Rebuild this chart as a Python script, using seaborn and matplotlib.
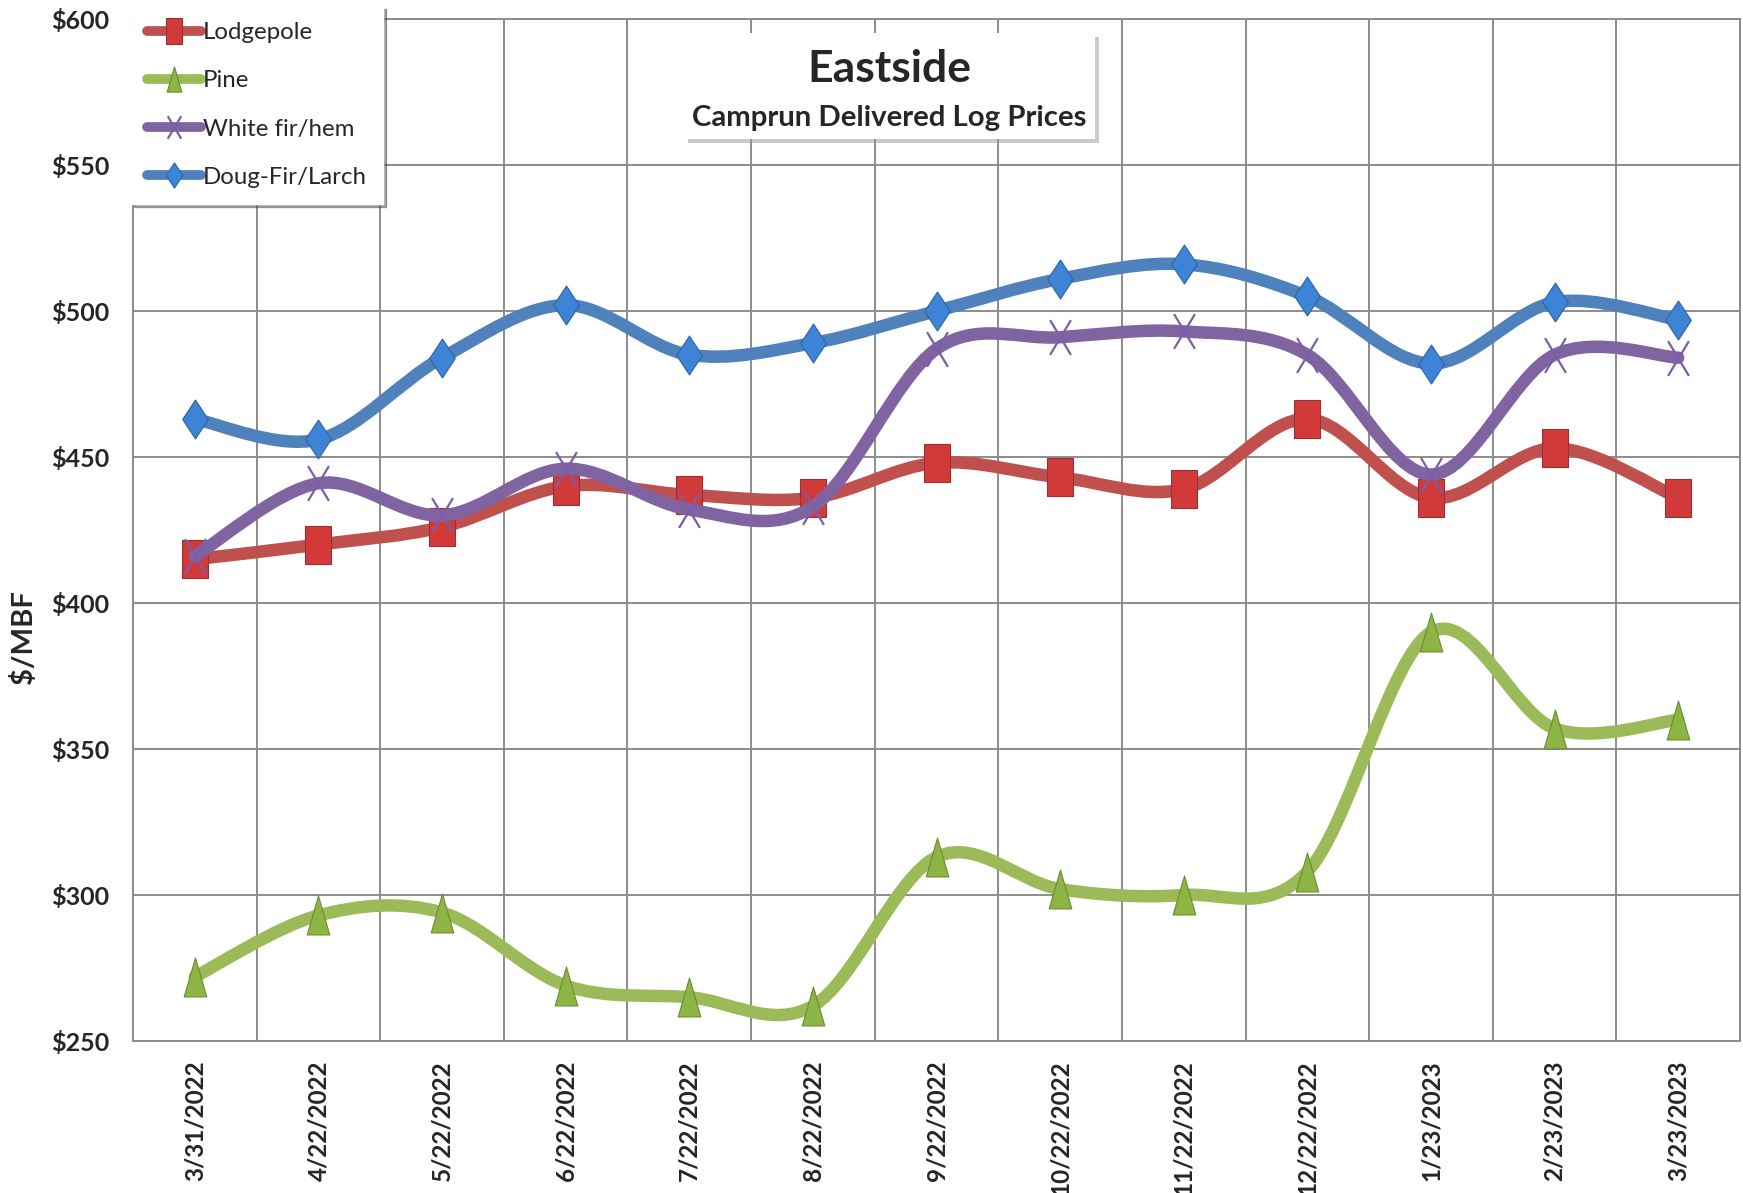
import numpy as np
import seaborn as sns
import matplotlib.pyplot as plt
import matplotlib.patheffects as pe
from matplotlib.path import Path
from matplotlib.patches import PathPatch, Rectangle
from matplotlib.lines import Line2D

# Data ($/MBF)
dates = ["3/31/2022", "4/22/2022", "5/22/2022", "6/22/2022", "7/22/2022", "8/22/2022",
         "9/22/2022", "10/22/2022", "11/22/2022", "12/22/2022", "1/23/2023", "2/23/2023",
         "3/23/2023"]
lodgepole = [415, 420, 426, 440, 437, 436, 448, 443, 439, 463, 436, 453, 436]
pine = [272, 293, 294, 269, 265, 262, 313, 302, 300, 308, 390, 357, 360]
white_fir = [416, 441, 430, 446, 432, 433, 487, 491, 493, 485, 444, 485, 484]
doug_fir = [463, 456, 484, 502, 485, 489, 500, 511, 516, 505, 482, 503, 497]
y_ticks = [250, 300, 350, 400, 450, 500, 550, 600]

sns.set_style("white")
plt.rcParams['font.family'] = ['Lato', 'DejaVu Sans']

# Tall marker shapes (the reference markers are stretched vertically)
square = Path([(-0.33, -0.5), (0.33, -0.5), (0.33, 0.5), (-0.33, 0.5), (-0.33, -0.5)],
              [Path.MOVETO, Path.LINETO, Path.LINETO, Path.LINETO, Path.CLOSEPOLY])
diamond = Path([(0, 0.5), (0.33, 0), (0, -0.5), (-0.33, 0), (0, 0.5)],
               [Path.MOVETO, Path.LINETO, Path.LINETO, Path.LINETO, Path.CLOSEPOLY])
triangle = Path([(-0.29, -0.5), (0.29, -0.5), (0, 0.5), (-0.29, -0.5)],
                [Path.MOVETO, Path.LINETO, Path.LINETO, Path.CLOSEPOLY])
cross = Path([(-0.3, -0.5), (0.3, 0.5), (-0.3, 0.5), (0.3, -0.5)],
             [Path.MOVETO, Path.LINETO, Path.MOVETO, Path.LINETO])

series = [
    ("Lodgepole", lodgepole, "#C0504D", square, "#D23A3A", "#9A3030", 28, 0.8),
    ("Pine", pine, "#9BBB59", triangle, "#8DB543", "#6A8C32", 28, 0.8),
    ("White fir/hem", white_fir, "#8064A2", cross, "none", "#7B5EA7", 25, 1.6),
    ("Doug-Fir/Larch", doug_fir, "#4F81BD", diamond, "#3D83D6", "#2F63A8", 28, 0.8),
]


def smooth_path(xs, ys):
    # Bezier (Catmull-Rom style) smoothing, like Excel's "smoothed line"
    pts = np.column_stack([xs, ys]).astype(float)
    n = len(pts)
    verts = [pts[0]]
    codes = [Path.MOVETO]
    for i in range(n - 1):
        p0 = pts[max(i - 1, 0)]
        p1 = pts[i]
        p2 = pts[i + 1]
        p3 = pts[min(i + 2, n - 1)]
        verts += [p1 + (p2 - p0) / 6, p2 - (p3 - p1) / 6, p2]
        codes += [Path.CURVE4] * 3
    return Path(verts, codes)


fig = plt.figure(figsize=(17.43, 11.93), dpi=100)
ax = fig.add_axes([0.0763, 0.1274, 0.922, 0.8567])

x = np.arange(len(dates))
grid_color = "#8C8C8C"

handles = []
for i, (name, vals, lc, mk, mfc, mec, ms, mew) in enumerate(series):
    z = 3 + i * 2
    ax.add_patch(PathPatch(smooth_path(x, vals), facecolor="none", edgecolor=lc,
                           lw=9, capstyle="round", joinstyle="round", zorder=z))
    sns.lineplot(x=x, y=vals, ax=ax, linestyle="none", marker=mk, markersize=ms,
                 markerfacecolor=mfc, markeredgecolor=mec, markeredgewidth=mew,
                 zorder=z + 1)
    handles.append(Line2D([], [], color=lc, lw=7, solid_capstyle="round", marker=mk,
                          markersize=ms * 0.65, markerfacecolor=mfc,
                          markeredgecolor=mec, markeredgewidth=mew, label=name))

ax.set_xlim(-0.5, len(dates) - 0.5)
ax.set_ylim(250, 600)
ax.set_xticks(x)
ax.set_xticklabels(dates, rotation=90, fontsize=17.5, fontweight="bold")
ax.set_xticks(np.arange(-0.5, len(dates), 1), minor=True)
ax.set_yticks(y_ticks)
ax.set_yticklabels([f"${v}" for v in y_ticks], fontsize=18, fontweight="bold")
ax.tick_params(axis="both", which="both", length=0)
ax.tick_params(axis="y", pad=17)
ax.tick_params(axis="x", pad=14)
ax.grid(True, axis="y", which="major", color=grid_color, lw=1.4)
ax.grid(True, axis="x", which="minor", color=grid_color, lw=1.4)
ax.grid(False, axis="x", which="major")
for s in ax.spines.values():
    s.set_color(grid_color)
    s.set_linewidth(1.4)
ax.set_xlabel("")
ax.set_ylabel("")

fig.text(24 / 1743, 1 - 637 / 1193, "$/MBF", rotation=90, ha="center", va="center",
         fontsize=21, fontweight="bold")

leg = ax.legend(handles=handles, loc="upper left",
                bbox_to_anchor=(131 / 1743, 1 - 6 / 1193), bbox_transform=fig.transFigure,
                fontsize=17.3, frameon=True, shadow=True, fancybox=False,
                handlelength=2.25, handletextpad=0.05, labelspacing=1.13,
                borderpad=0.68, borderaxespad=0)
leg.get_frame().set_edgecolor("white")
leg.get_frame().set_facecolor("white")
leg.set_zorder(20)

# Title box with drop shadow
box = Rectangle((684 / 1743, 1 - 139 / 1193), 411 / 1743, 106 / 1193,
                transform=fig.transFigure, facecolor="white", edgecolor="none", zorder=5,
                path_effects=[pe.withSimplePatchShadow(offset=(3, -3), shadow_rgbFace="#999999",
                                                       alpha=0.5)])
fig.add_artist(box)
fig.text(889 / 1743, 1 - 69 / 1193, "Eastside", ha="center", va="center",
         fontsize=32, fontweight="bold", zorder=6)
fig.text(889 / 1743, 1 - 118 / 1193, "Camprun Delivered Log Prices", ha="center",
         va="center", fontsize=21.2, fontweight="bold", zorder=6)

fig.savefig("out.png", dpi=100)
